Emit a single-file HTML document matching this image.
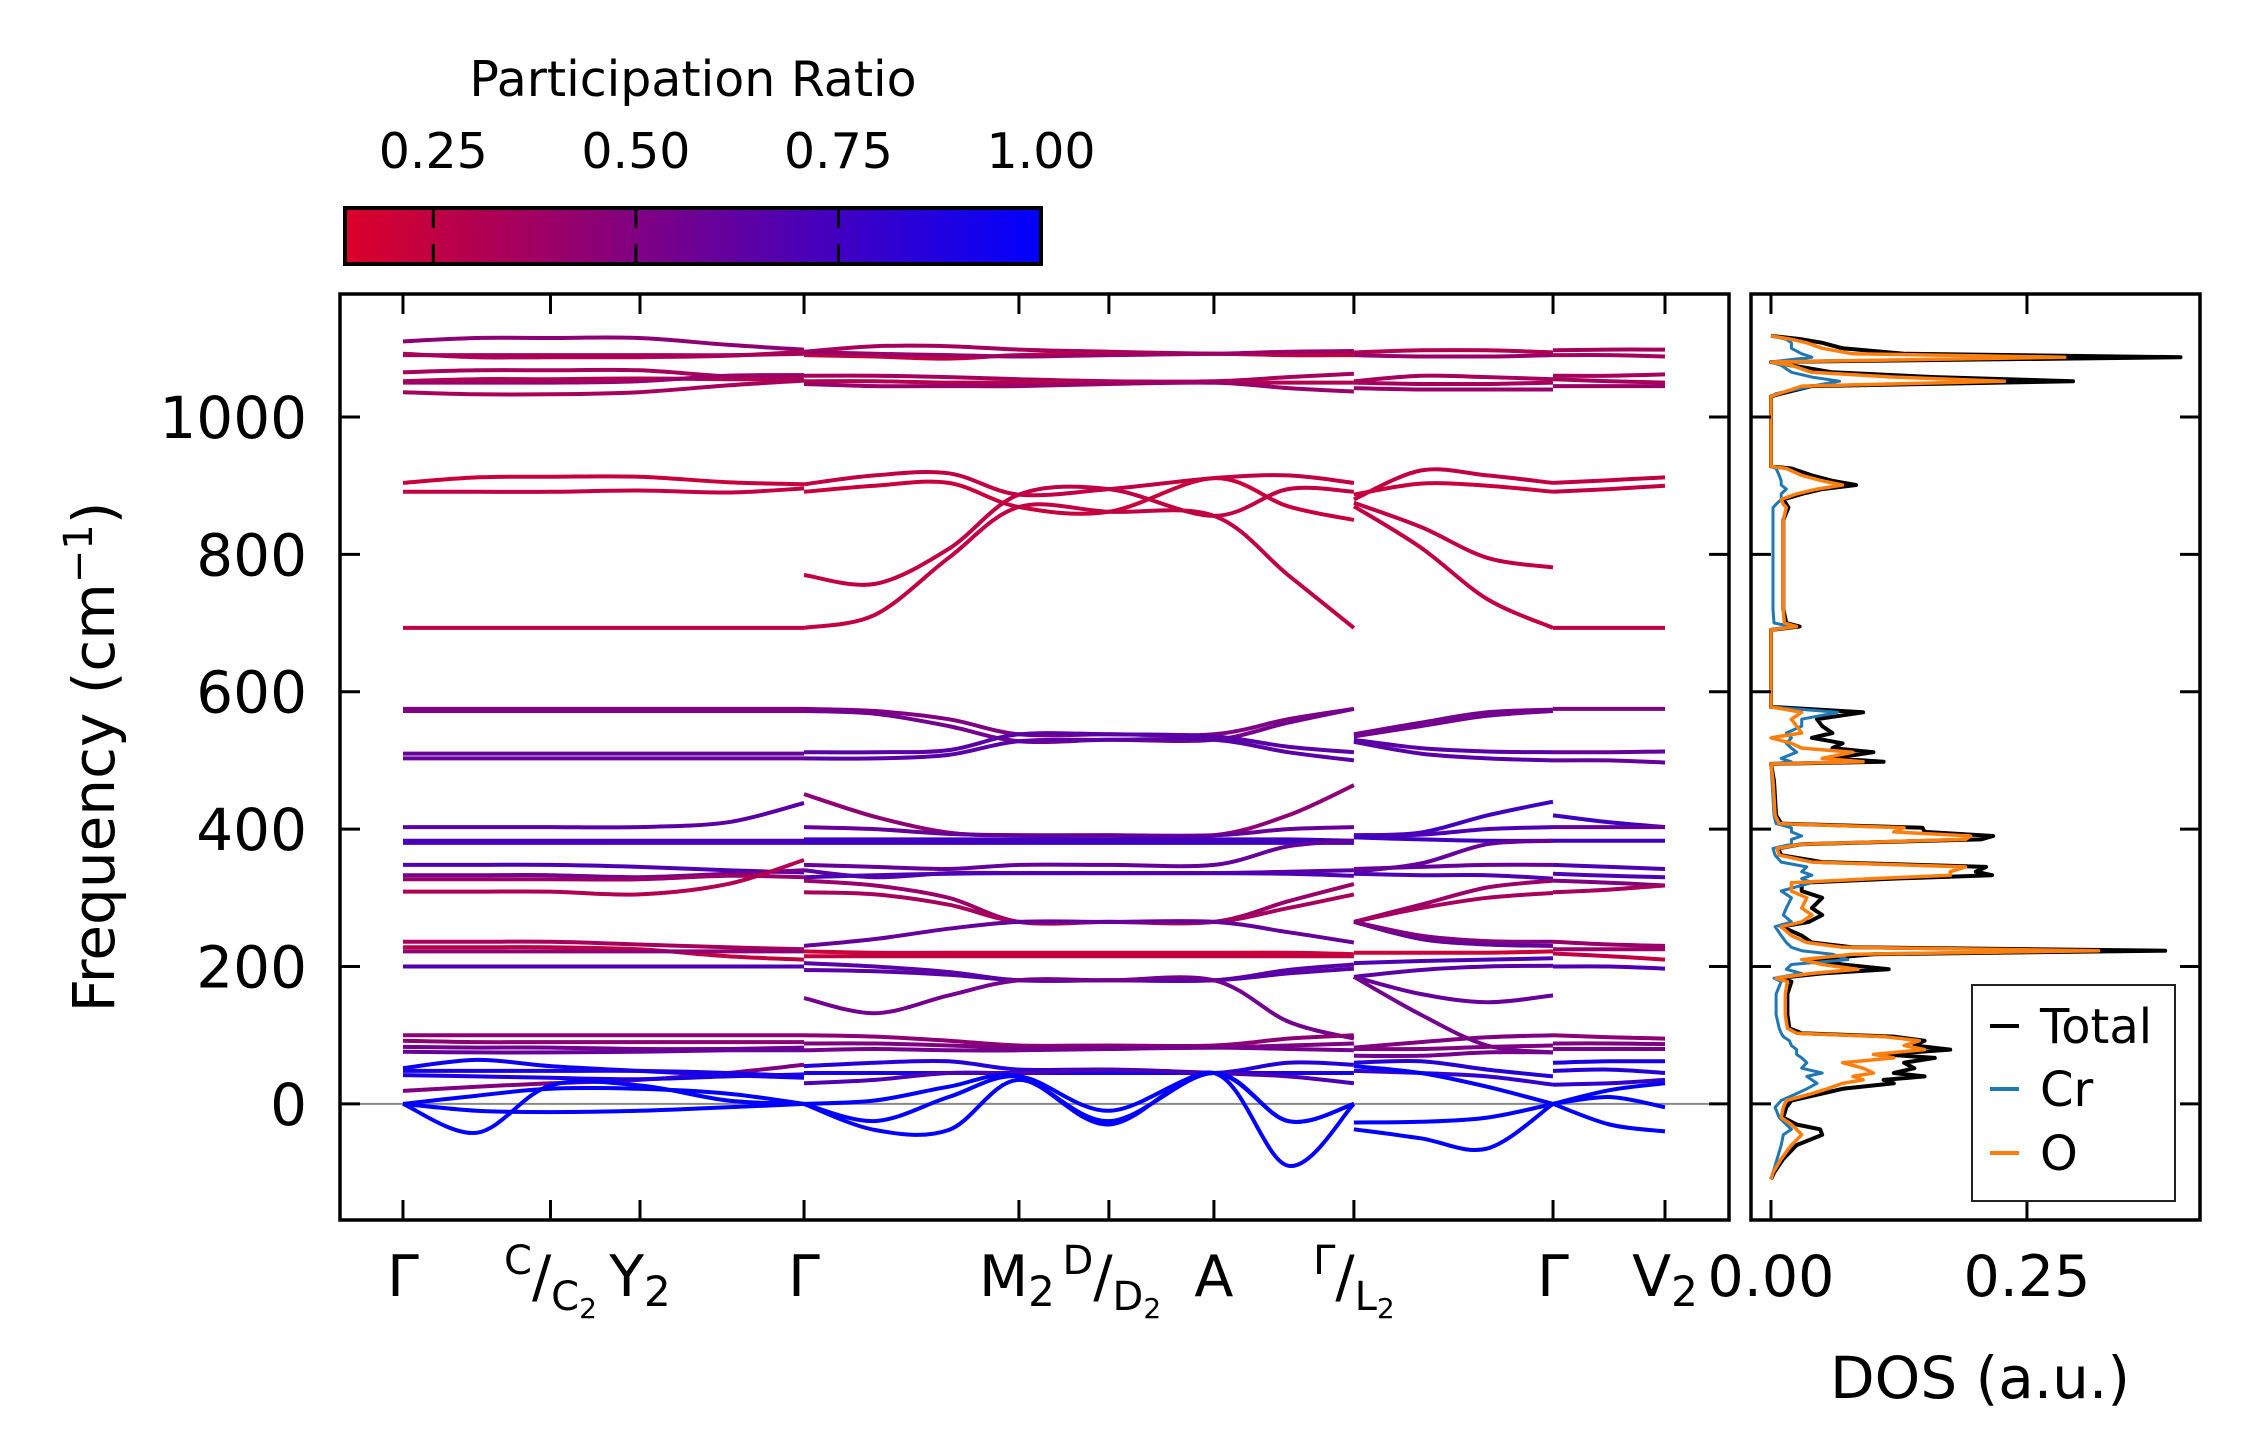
<!DOCTYPE html>
<html>
<head>
<meta charset="utf-8">
<style>
html,body{margin:0;padding:0;background:#fff;}
svg{display:block;font-family:"DejaVu Sans","Liberation Sans",sans-serif;}
</style>
</head>
<body>
<svg id="chart" width="2259" height="1455" viewBox="0 0 2259 1455" xmlns="http://www.w3.org/2000/svg">
  <defs>
    <linearGradient id="cbgrad" x1="0" x2="1" y1="0" y2="0">
      <stop offset="0" stop-color="rgb(220,0,40)"/>
      <stop offset="1" stop-color="rgb(0,0,255)"/>
    </linearGradient>
    <clipPath id="mainclip"><rect x="340" y="294" width="1389" height="926"/></clipPath>
    <clipPath id="dosclip"><rect x="1751" y="294" width="449" height="926"/></clipPath>
  </defs>
  <g id="colorbar">
    <text x="693" y="96" font-size="49" text-anchor="middle">Participation Ratio</text>
    <rect x="345" y="208" width="696" height="56" fill="url(#cbgrad)" stroke="#000" stroke-width="4"/>
    <g id="cbticks"></g>
  </g>
  <g id="mainplot">
    <line id="zeroline" stroke="#888" stroke-width="2"/>
    <g id="bands" clip-path="url(#mainclip)"></g>
    <g id="mainaxes"></g>
    <text transform="translate(114,757) rotate(-90)" font-size="58" text-anchor="middle">Frequency (cm<tspan dy="-22" font-size="40">−1</tspan><tspan dy="22">)</tspan></text>
  </g>
  <g id="dosplot">
    <g id="doscurves" clip-path="url(#dosclip)"></g>
    <g id="dosaxes"></g>
    <text x="1980" y="1398" font-size="58" text-anchor="middle">DOS (a.u.)</text>
    <g id="legend">
      <rect x="1972" y="985" width="203" height="216" fill="#fff" stroke="#222" stroke-width="2"/>
      <g><line x1="1990" x2="2019" y1="1026" y2="1026" stroke="#000" stroke-width="4"/><text x="2040" y="1043" font-size="48">Total</text></g>
      <g><line x1="1990" x2="2019" y1="1089" y2="1089" stroke="#1f77b4" stroke-width="4"/><text x="2040" y="1106" font-size="48">Cr</text></g>
      <g><line x1="1990" x2="2019" y1="1153" y2="1153" stroke="#ff7f0e" stroke-width="4"/><text x="2040" y="1170" font-size="48">O</text></g>
    </g>
  </g>
</svg>
<script>
// ---- axis data ----
const freqTicks = [0, 200, 400, 600, 800, 1000];
const kTickPos = [0, 1.0, 1.607, 2.719, 4.176, 4.786, 5.498, 6.447, 7.797, 8.556];
const cbTicks = [0.25, 0.50, 0.75, 1.00];
const cbTickLabels = ["0.25", "0.50", "0.75", "1.00"];
const dosTicks = [0.00, 0.25];
const dosTickLabels = ["0.00", "0.25"];

// ---- band data: panel sample k-points, band frequencies, participation ratios ----
const p1K = [0, 0.5, 1.0, 1.6, 2.2, 2.719];
const p1Bands = [
 [1110,1115,1115,1115,1105,1098],[1092,1087,1087,1087,1089,1095],[1090,1090,1090,1090,1090,1092],
 [1065,1068,1068,1068,1059,1056],[1052,1055,1055,1056,1055,1055],[1050,1050,1050,1052,1060,1061],
 [1036,1033,1033,1036,1046,1053],
 [904,912,913,913,905,902],[891,891,891,893,890,896],
 [693,693,693,693,693,693],
 [575,575,575,575,575,575],[572,572,572,572,572,572],[510,510,510,510,510,510],[503,503,503,503,503,503],
 [403,403,403,403,410,438],[383,383,383,383,383,383],[380,380,380,380,380,380],
 [348,348,348,345,340,337],[333,333,333,330,335,340],[327,327,327,327,332,330],[309,309,309,305,320,355],
 [236,236,236,232,228,225],[228,228,228,225,215,210],[222,222,222,222,222,222],[200,200,200,200,200,200],
 [100,100,100,100,100,100],[92,90,90,90,90,90],[83,82,82,80,80,82],[76,75,75,76,78,78],[19,25,30,35,45,57],
 [52,64,55,48,42,38],[48,48,48,48,45,40],[42,40,38,36,40,43],
 [0,12,22,22,15,0],[0,-10,-12,-10,-5,0],[0,-42,27,27,5,0]
];
const p1PR = [0.45,0.3,0.35,0.35,0.3,0.4,0.35, 0.22,0.24, 0.25, 0.5,0.5,0.6,0.6, 0.65,0.72,0.72,
 0.7,0.55,0.4,0.3, 0.35,0.25,0.45,0.7, 0.45,0.45,0.55,0.6,0.5, 0.95,0.9,0.9, 1.0,1.0,1.0];

const p2K = [2.719, 3.2, 3.7, 4.176, 4.786, 5.498, 6.0, 6.447];
const p2Bands = [
 [1095,1103,1103,1098,1095,1092,1093,1094],[1090,1088,1085,1090,1092,1092,1090,1090],[1095,1092,1090,1088,1090,1092,1095,1096],
 [1060,1060,1058,1055,1052,1052,1058,1063],[1052,1052,1050,1050,1050,1050,1050,1050],[1048,1045,1045,1045,1048,1050,1042,1037],
 [902,915,918,887,895,911,915,904],[891,900,904,869,862,911,870,850],[770,757,808,887,895,856,895,891],[693,712,795,869,862,856,770,693],
 [575,572,560,538,538,538,560,575],[572,568,550,528,530,530,555,575],[512,512,515,538,538,535,520,512],[503,503,508,528,530,530,512,500],
 [451,418,395,391,391,391,420,464],[403,400,393,391,391,391,400,403],[385,385,385,385,385,385,385,383],[380,380,380,380,380,380,380,380],
 [348,345,342,348,348,348,375,383],[340,330,336,336,336,336,338,340],[330,333,335,336,336,336,335,332],
 [325,318,300,265,265,265,295,320],[308,305,290,265,265,265,285,305],[230,240,255,265,265,265,250,235],
 [222,220,220,220,220,220,220,218],[215,215,215,215,215,215,215,215],[205,200,192,180,180,180,195,203],[195,193,188,180,180,180,190,197],
 [154,132,158,180,180,180,120,95],
 [100,98,92,85,85,85,95,100],[88,88,85,82,82,82,85,88],[78,80,78,78,80,82,80,78],
 [55,60,62,50,50,45,60,57],[45,45,45,45,45,45,45,45],[30,35,45,45,50,45,40,30],
 [0,5,25,40,-25,45,-25,0],[0,-38,-38,35,-30,45,-90,0],[0,-25,10,40,-10,45,-25,0]
];
const p2PR = [0.35,0.25,0.4,0.35,0.3,0.4, 0.25,0.22,0.25,0.25, 0.5,0.55,0.65,0.65,
 0.45,0.6,0.75,0.75, 0.6,0.65,0.7, 0.4,0.35,0.6, 0.2,0.25,0.65,0.65, 0.55,
 0.45,0.5,0.55, 0.85,0.9,0.7, 1.0,0.98,1.0];

const p3K = [6.447, 6.9, 7.35, 7.797];
const p3Bands = [
 [1094,1097,1097,1094],[1090,1088,1088,1090],[1052,1060,1058,1055],[1050,1048,1048,1050],[1042,1040,1040,1040],
 [880,922,915,904],[887,903,900,891],[875,840,795,781],[870,810,735,693],
 [538,555,570,574],[535,550,565,572],[530,518,513,512],[527,510,503,500],
 [391,395,420,440],[391,392,400,403],[388,385,383,383],
 [342,345,348,348],[338,350,378,383],[335,333,333,328],
 [265,290,315,325],[265,285,300,307],[265,240,232,230],[265,245,237,236],
 [220,220,220,222],[205,208,210,212],[185,195,200,201],[185,160,148,158],[185,130,85,75],
 [82,90,97,100],[80,80,83,85],[70,70,75,75],
 [60,62,50,40],[48,45,40,28],
 [-27,-26,-20,0],[-37,-50,-65,0],[55,45,25,0]
];
const p3PR = [0.3,0.4,0.35,0.35,0.4, 0.25,0.22,0.25,0.25, 0.55,0.55,0.65,0.65,
 0.75,0.7,0.75, 0.6,0.6,0.7, 0.4,0.35,0.6,0.5, 0.2,0.7,0.65,0.6,0.55,
 0.5,0.5,0.55, 0.85,0.8, 1.0,1.0,1.0];

const p4K = [7.797, 8.18, 8.556];
const p4Bands = [
 [1097,1098,1098],[1090,1090,1088],[1060,1060,1062],[1055,1052,1050],[1045,1045,1045],
 [904,908,912],[891,895,900],[693,693,693],
 [575,575,575],[512,512,513],[500,500,497],
 [420,410,403],[403,403,403],[383,383,383],
 [348,345,342],[335,332,330],[325,322,318],[308,312,318],
 [236,232,230],[225,225,225],[219,215,210],[200,200,197],
 [100,97,95],[88,88,87],[80,80,80],[60,62,62],[48,50,45],[28,30,35],
 [0,10,-5],[0,-30,-40],[0,20,30]
];
const p4PR = [0.35,0.35,0.35,0.35,0.4, 0.25,0.25,0.25, 0.5,0.6,0.6, 0.75,0.6,0.75,
 0.7,0.7,0.5,0.35, 0.4,0.4,0.25,0.7, 0.45,0.5,0.55,0.9,0.85,0.8, 1.0,1.0,1.0];

// ---- DOS data ----
const dosFreq  = [-110,-100,-80,-60,-45,-37,-30,-20,-5,5,15,22,30,35,40,45,52,60,67,72,79,85,92,98,103,110,130,160,178,183,190,196,203,210,218,223,228,235,245,258,265,275,285,300,310,322,328,333,338,345,352,362,372,378,385,390,396,402,408,420,470,495,498,503,512,518,525,533,540,550,560,570,578,690,695,700,720,850,868,873,880,888,895,901,907,915,925,928,1030,1034,1045,1052,1058,1065,1075,1080,1087,1092,1100,1108,1113,1118];
const dosTotal = [0,0.003,0.012,0.025,0.05,0.048,0.025,0.012,0.015,0.02,0.05,0.07,0.12,0.11,0.15,0.12,0.14,0.13,0.16,0.11,0.175,0.14,0.15,0.12,0.03,0.018,0.016,0.016,0.02,0.006,0.05,0.115,0.07,0.04,0.1,0.385,0.08,0.04,0.03,0.01,0.037,0.05,0.04,0.05,0.03,0.03,0.12,0.216,0.2,0.21,0.05,0.01,0.007,0.03,0.205,0.217,0.15,0.148,0.01,0.005,0.003,0,0.11,0.06,0.1,0.06,0.07,0.04,0.06,0.05,0.045,0.09,0,0,0.028,0.015,0.012,0.012,0.017,0.015,0.012,0.03,0.05,0.083,0.06,0.04,0.02,0,0,0.01,0.04,0.295,0.16,0.06,0.02,0,0.40,0.13,0.07,0.05,0.03,0];
const dosCr    = [0,0.002,0.006,0.01,0.012,0.02,0.015,0.008,0.004,0.01,0.025,0.035,0.045,0.04,0.035,0.05,0.03,0.035,0.03,0.025,0.025,0.02,0.018,0.012,0.01,0.008,0.005,0.005,0.01,0.003,0.03,0.015,0.02,0.075,0.06,0.03,0.02,0.015,0.01,0.004,0.02,0.012,0.015,0.02,0.01,0.04,0.03,0.04,0.03,0.035,0.01,0.004,0.002,0.02,0.02,0.03,0.02,0.02,0.005,0.003,0.001,0,0.02,0.01,0.025,0.02,0.015,0.02,0.015,0.03,0.03,0.065,0,0,0.02,0.003,0.002,0.002,0.002,0.005,0.01,0.01,0.015,0.01,0.01,0.008,0.005,0,0,0.005,0.04,0.067,0.04,0.02,0.01,0,0.04,0.03,0.02,0.02,0.015,0];
const dosO     = [0,0.002,0.01,0.02,0.03,0.025,0.02,0.01,0.012,0.015,0.04,0.055,0.07,0.09,0.08,0.1,0.09,0.07,0.12,0.1,0.15,0.13,0.145,0.11,0.025,0.016,0.014,0.014,0.016,0.005,0.04,0.085,0.05,0.03,0.08,0.32,0.07,0.035,0.02,0.01,0.03,0.04,0.03,0.035,0.02,0.02,0.1,0.175,0.175,0.19,0.04,0.008,0.006,0.03,0.19,0.195,0.12,0.13,0.008,0.004,0.002,0,0.09,0.05,0.08,0.03,0.02,0,0.03,0.025,0.02,0.03,0,0,0.025,0.013,0.012,0.012,0.015,0.012,0.01,0.025,0.045,0.07,0.05,0.03,0.015,0,0,0.008,0.03,0.228,0.12,0.04,0.02,0,0.287,0.08,0.05,0.035,0.02,0];

// ---- scales ----
const NS = 'http://www.w3.org/2000/svg';
const MX0 = 340, MX1 = 1729, MY0 = 294, MY1 = 1220;
const kMin = -0.427, kMax = 8.99;
const fMin = -169, fMax = 1179;
const xK = k => MX0 + (k - kMin) / (kMax - kMin) * (MX1 - MX0);
const yF = f => MY1 - (f - fMin) / (fMax - fMin) * (MY1 - MY0);
const DX0 = 1751, DX1 = 2200, dMin = -0.0195, dMax = 0.419;
const xD = d => DX0 + (d - dMin) / (dMax - dMin) * (DX1 - DX0);
const CB0 = 345, CB1 = 1041, prMin = 0.141, prMax = 1.0;
const xCB = p => CB0 + (p - prMin) / (prMax - prMin) * (CB1 - CB0);
function prColor(p){
  const t = Math.max(0, Math.min(1, (p - prMin) / (prMax - prMin)));
  return 'rgb(' + Math.round(220*(1-t)) + ',0,' + Math.round(40 + 215*t) + ')';
}
function el(tag, attrs, parent){
  const e = document.createElementNS(NS, tag);
  for (const a in attrs) e.setAttribute(a, attrs[a]);
  parent.appendChild(e);
  return e;
}
function curvePath(ks, fs){
  const pts = ks.map((k,i)=>[xK(k), yF(fs[i])]);
  let d = 'M' + pts[0][0].toFixed(1) + ',' + pts[0][1].toFixed(1);
  for (let i=0;i<pts.length-1;i++){
    const p0 = pts[i-1]||pts[i], p1 = pts[i], p2 = pts[i+1], p3 = pts[i+2]||pts[i+1];
    const c1 = [p1[0]+(p2[0]-p0[0])/6, p1[1]+(p2[1]-p0[1])/6];
    const c2 = [p2[0]-(p3[0]-p1[0])/6, p2[1]-(p3[1]-p1[1])/6];
    d += ' C'+c1[0].toFixed(1)+','+c1[1].toFixed(1)+' '+c2[0].toFixed(1)+','+c2[1].toFixed(1)+' '+p2[0].toFixed(1)+','+p2[1].toFixed(1);
  }
  return d;
}

// ---- zero line ----
const zl = document.getElementById('zeroline');
zl.setAttribute('x1', MX0); zl.setAttribute('x2', MX1);
zl.setAttribute('y1', yF(0)); zl.setAttribute('y2', yF(0));

// ---- bands ----
const bandsG = document.getElementById('bands');
const panels = [[p1K,p1Bands,p1PR],[p2K,p2Bands,p2PR],[p3K,p3Bands,p3PR],[p4K,p4Bands,p4PR]];
panels.forEach((pn, pi) => {
  pn[1].forEach((fs, bi) => {
    const path = el('path', {d: curvePath(pn[0], fs), fill:'none', stroke: prColor(pn[2][bi]), 'stroke-width': 4, 'stroke-linecap':'butt'}, bandsG);
    
    
  });
});

// ---- main axes ----
const ax = document.getElementById('mainaxes');
el('rect', {x:MX0, y:MY0, width:MX1-MX0, height:MY1-MY0, fill:'none', stroke:'#000', 'stroke-width':3.5}, ax);
freqTicks.forEach(f => {
  const y = yF(f);
  el('line', {x1:MX0, x2:MX0+20, y1:y, y2:y, stroke:'#000', 'stroke-width':3}, ax);
  el('line', {x1:MX1-20, x2:MX1, y1:y, y2:y, stroke:'#000', 'stroke-width':3}, ax);
  const t = el('text', {x:307, y:y+21, 'font-size':58, 'text-anchor':'end'}, ax);
  t.textContent = String(f);
  
  
});
kTickPos.forEach(k => {
  const x = xK(k);
  el('line', {x1:x, x2:x, y1:MY0, y2:MY0+20, stroke:'#000', 'stroke-width':3}, ax);
  el('line', {x1:x, x2:x, y1:MY1-20, y2:MY1, stroke:'#000', 'stroke-width':3}, ax);
});
const kl = el('g', {'font-size':57, 'text-anchor':'middle'}, ax);


const LY = 1296;
function simple(k, txt, sub){
  const t = el('text', {x:xK(k), y:LY}, kl);
  t.textContent = txt;
  if (sub){ const s = el('tspan', {'font-size':42, dy:10}, t); s.textContent = sub; }
  return t;
}
function frac(k, sup, main, sub){
  const t = el('text', {x:xK(k), y:LY}, kl);
  const a = el('tspan', {'font-size':40, dy:-22}, t); a.textContent = sup;
  const b = el('tspan', {'font-size':57, dy:22}, t); b.textContent = '/';
  const c = el('tspan', {'font-size':40, dy:14}, t); c.textContent = main;
  const d = el('tspan', {'font-size':28, dy:8}, t); d.textContent = sub;
  return t;
}
simple(kTickPos[0], 'Γ');
frac(kTickPos[1], 'C', 'C', '2');
simple(kTickPos[2], 'Y', '2');
simple(kTickPos[3], 'Γ');
const m2 = el('text', {x:xK(kTickPos[4]) - 2, y:LY}, kl);
m2.textContent = 'M';
const m2s = el('tspan', {'font-size':42, dy:10}, m2); m2s.textContent = '2';
frac(kTickPos[5] + 0.02, 'D', 'D', '2');
simple(kTickPos[6], 'A');
frac(kTickPos[7], 'Γ', 'L', '2');
simple(kTickPos[8], 'Γ');
simple(kTickPos[9], 'V', '2');

// ---- colorbar ticks ----
const cbt = document.getElementById('cbticks');
cbTicks.forEach((p, i) => {
  const x = xCB(p);
  if (p < 0.999){
    el('line', {x1:x, x2:x, y1:208, y2:228, stroke:'#000', 'stroke-width':3}, cbt);
    el('line', {x1:x, x2:x, y1:244, y2:264, stroke:'#000', 'stroke-width':3}, cbt);
  }
  const t = el('text', {x:x, y:168, 'font-size':49, 'text-anchor':'middle'}, cbt);
  t.textContent = cbTickLabels[i];
  
  
});

// ---- DOS ----
const dg = document.getElementById('doscurves');
function dosPath(vals){
  return dosFreq.map((f,i)=> (i?'L':'M') + xD(vals[i]).toFixed(1) + ',' + yF(f).toFixed(1)).join(' ');
}
const tot = el('path', {d:dosPath(dosTotal), fill:'none', stroke:'#000', 'stroke-width':4, 'stroke-linejoin':'round'}, dg);


const cr = el('path', {d:dosPath(dosCr), fill:'none', stroke:'#1f77b4', 'stroke-width':3, 'stroke-linejoin':'round'}, dg);


const ox = el('path', {d:dosPath(dosO), fill:'none', stroke:'#ff7f0e', 'stroke-width':3.5, 'stroke-linejoin':'round'}, dg);



const dax = document.getElementById('dosaxes');
el('rect', {x:DX0, y:MY0, width:DX1-DX0, height:MY1-MY0, fill:'none', stroke:'#000', 'stroke-width':3.5}, dax);
freqTicks.forEach(f => {
  const y = yF(f);
  el('line', {x1:DX0, x2:DX0+20, y1:y, y2:y, stroke:'#000', 'stroke-width':3}, dax);
  el('line', {x1:DX1-20, x2:DX1, y1:y, y2:y, stroke:'#000', 'stroke-width':3}, dax);
});
dosTicks.forEach((d, i) => {
  const x = xD(d);
  el('line', {x1:x, x2:x, y1:MY0, y2:MY0+20, stroke:'#000', 'stroke-width':3}, dax);
  el('line', {x1:x, x2:x, y1:MY1-20, y2:MY1, stroke:'#000', 'stroke-width':3}, dax);
  const t = el('text', {x:x, y:1296, 'font-size':57, 'text-anchor':'middle'}, dax);
  t.textContent = dosTickLabels[i];
  
  
});
</script>
</body>
</html>
